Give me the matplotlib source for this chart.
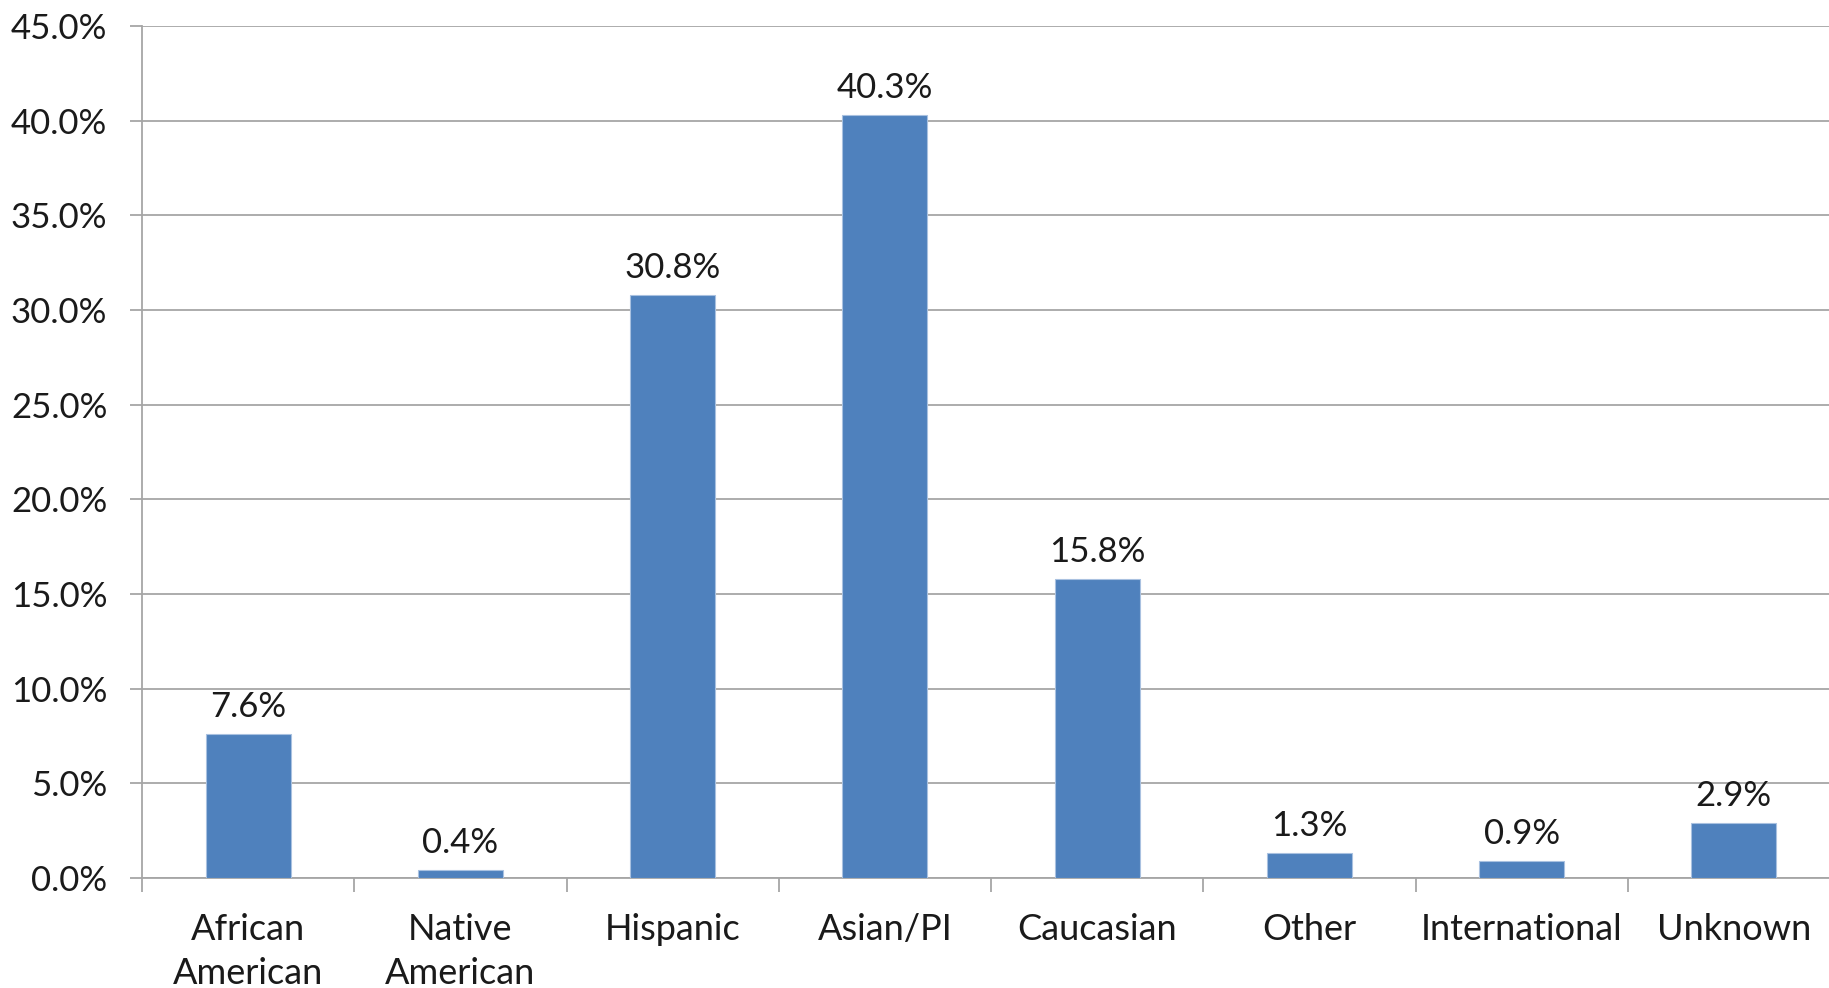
import numpy as np
import matplotlib.pyplot as plt
from matplotlib.ticker import FuncFormatter, MultipleLocator, FixedLocator

# Data
categories = ['African\nAmerican', 'Native\nAmerican', 'Hispanic', 'Asian/PI',
              'Caucasian', 'Other', 'International', 'Unknown']
shares = [7.6, 0.4, 30.8, 40.3, 15.8, 1.3, 0.9, 2.9]  # percent

bar_color = '#4F81BD'
grid_color = '#A6A6A6'

plt.rcParams['font.family'] = ['Lato', 'DejaVu Sans']

fig = plt.figure(figsize=(18.29, 9.88), dpi=100, facecolor='w')
ax = fig.add_axes([142 / 1829, 110 / 988, (1840 - 142) / 1829, (962 - 110) / 988])

x = np.arange(len(categories))
ax.bar(x, shares, width=0.4, color=bar_color, edgecolor='#A9C1E0',
       linewidth=0.8, zorder=3)

for xi, v in zip(x, shares):
    ax.annotate('%.1f%%' % v, (xi, v), xytext=(0, 8), textcoords='offset points',
                ha='center', va='bottom', fontsize=25, color='#1a1a1a')

ax.set_xlim(-0.5, len(categories) - 0.5)
ax.set_ylim(0, 45)

ax.yaxis.set_major_locator(MultipleLocator(5))
ax.yaxis.set_major_formatter(FuncFormatter(lambda v, p: '%.1f%%' % v))
ax.grid(axis='y', color=grid_color, linewidth=1.3, zorder=0)

ax.set_xticks(x)
ax.set_xticklabels(categories, linespacing=1.42)
ax.xaxis.set_minor_locator(FixedLocator(np.arange(-0.5, len(categories), 1.0)))
ax.tick_params(axis='x', which='major', length=0, pad=25, labelsize=26,
               labelcolor='#1a1a1a')
ax.tick_params(axis='x', which='minor', length=10, width=1.3, color=grid_color)
ax.tick_params(axis='y', length=9, width=1.3, color=grid_color, pad=16,
               labelsize=25, labelcolor='#1a1a1a')

for side in ('top', 'right'):
    ax.spines[side].set_visible(False)
for side in ('left', 'bottom'):
    ax.spines[side].set_color(grid_color)
    ax.spines[side].set_linewidth(1.3)

fig.savefig('out.png', dpi=100)
